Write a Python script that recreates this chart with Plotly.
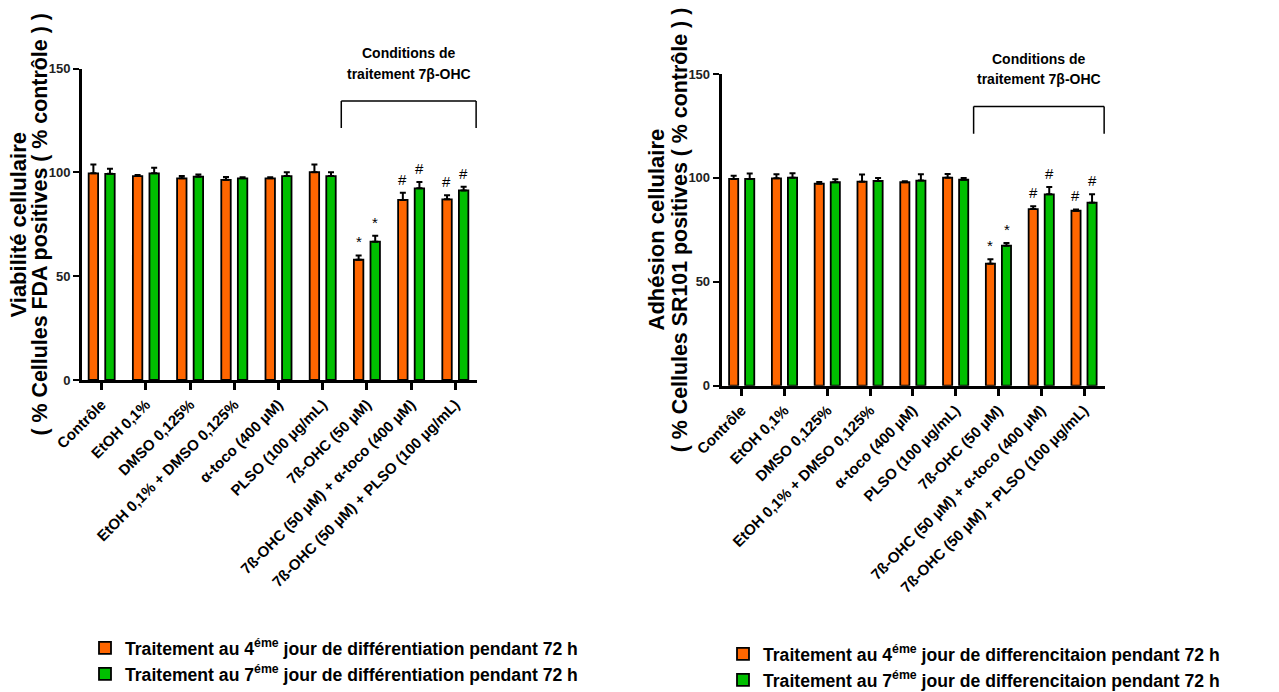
import plotly.graph_objects as go

# the page body has an 8px margin: figure starts at (8, 8) in the window
W, H = 1263, 684
PAD = 8

categories = ["Contrôle", "EtOH 0,1%", "DMSO 0,125%", "EtOH 0,1% + DMSO 0,125%",
              "α-toco (400 µM)", "PLSO (100 µg/mL)", "7ß-OHC (50 µM)",
              "7ß-OHC (50 µM) + α-toco (400 µM)", "7ß-OHC (50 µM) + PLSO (100 µg/mL)"]

# viabilite (FDA)
fda_j4 = [99.5, 98.2, 97.1, 96.4, 97.1, 100.1, 57.9, 86.7, 87.0]
fda_j4_err = [4.3, 0.5, 1.1, 1.3, 0.5, 3.7, 2.1, 3.5, 2.0]
fda_j7 = [99.3, 99.5, 97.9, 97.1, 98.2, 98.2, 66.6, 92.3, 91.3]
fda_j7_err = [2.4, 2.7, 1.0, 0.5, 1.9, 1.9, 2.9, 3.0, 1.8]

# adhesion (SR101)
sr_j4 = [99.5, 99.8, 97.2, 98.2, 97.9, 100.1, 58.7, 85.0, 84.2]
sr_j4_err = [1.5, 2.0, 0.8, 3.4, 0.5, 1.8, 2.2, 1.3, 0.6]
sr_j7 = [99.5, 100.1, 97.9, 98.5, 98.7, 99.1, 67.4, 92.1, 88.1]
sr_j7_err = [2.6, 2.1, 1.4, 1.4, 3.0, 0.9, 1.3, 3.5, 4.0]

sig = ["", "", "", "", "", "", "*", "#", "#"]

legend_fda = ["Traitement au 4<sup>éme</sup> jour de différentiation pendant 72 h",
              "Traitement au 7<sup>éme</sup> jour de différentiation pendant 72 h"]
legend_sr = ["Traitement au 4<sup>éme</sup> jour de differencitaion pendant 72 h",
             "Traitement au 7<sup>éme</sup> jour de differencitaion pendant 72 h"]

ORANGE = "#FF6600"
GREEN = "#00BF00"
FONT = "Liberation Sans, Arial, sans-serif"
xs = list(range(len(categories)))

fig = go.Figure()


def add_bars(vals, errs, color, name, xa, ya, leg):
    fig.add_trace(go.Bar(
        x=xs, y=vals, name=name, xaxis=xa, yaxis=ya, legend=leg,
        marker=dict(color=color, line=dict(color="black", width=1.8)),
        error_y=dict(type="data", array=errs, arrayminus=[0] * len(errs),
                     symmetric=False, color="black", thickness=2, width=3),
    ))


add_bars(fda_j4, fda_j4_err, ORANGE, legend_fda[0], "x", "y", "legend")
add_bars(fda_j7, fda_j7_err, GREEN, legend_fda[1], "x", "y", "legend")
add_bars(sr_j4, sr_j4_err, ORANGE, legend_sr[0], "x2", "y2", "legend2")
add_bars(sr_j7, sr_j7_err, GREEN, legend_sr[1], "x2", "y2", "legend2")


def px_x(p):
    return (p - PAD) / W


def px_y(p):
    return 1 - (p - PAD) / H


xaxis_common = dict(
    tickmode="array", tickvals=xs, ticktext=categories, tickangle=-45,
    showline=True, linecolor="black", linewidth=3, ticks="outside",
    ticklen=7, tickwidth=2.5, tickcolor="black", showgrid=False, zeroline=False,
    automargin=False,
    tickfont=dict(family=FONT, size=15, color="black", weight="bold"),
)
yaxis_common = dict(
    range=[0, 150], tickvals=[0, 50, 100, 150],
    showline=True, linecolor="black", linewidth=3, ticks="outside",
    ticklen=6, tickwidth=2, tickcolor="black", showgrid=False, zeroline=False,
    automargin=False,
    tickfont=dict(family=FONT, size=13, color="#222", weight="bold"),
)
leg_font = dict(family=FONT, size=17.6, color="black", weight="bold")

fig.update_layout(
    template="none",
    width=W, height=H, margin=dict(l=0, r=0, t=0, b=0, autoexpand=False),
    plot_bgcolor="white", paper_bgcolor="white",
    barmode="group", bargap=0.25, bargroupgap=0.43,
    xaxis=dict(domain=[px_x(82), px_x(477)], range=[-0.445, 8.49], anchor="y", **xaxis_common),
    yaxis=dict(domain=[px_y(380), px_y(68.5)], anchor="x", **yaxis_common),
    xaxis2=dict(domain=[px_x(721.7), px_x(1105)], range=[-0.467, 8.49], anchor="y2", **xaxis_common),
    yaxis2=dict(domain=[px_y(385.7), px_y(74)], anchor="x2", **yaxis_common),
    legend=dict(x=px_x(85), y=px_y(630), xanchor="left", yanchor="top", font=leg_font,
                bgcolor="rgba(0,0,0,0)"),
    legend2=dict(x=px_x(723), y=px_y(636), xanchor="left", yanchor="top", font=leg_font,
                 bgcolor="rgba(0,0,0,0)"),
    showlegend=True,
)

ann = []
# y titles (two lines each)
ytitles = [
    (17.5, 39.5, 225, "Viabilité cellulaire", "( % Cellules FDA positives ( % contrôle ) )"),
    (656.7, 679.5, 229.8, "Adhésion cellulaire", "( % Cellules SR101 positives ( % contrôle ) )"),
]
for x1, x2, yc, l1, l2 in ytitles:
    for xx, t, fs in ((x1, l1, 22), (x2, l2, 21.4)):
        ann.append(dict(xref="paper", yref="paper", x=px_x(xx), y=px_y(yc), text=t,
                        textangle=-90, showarrow=False, xanchor="center", yanchor="middle",
                        font=dict(family=FONT, size=fs, color="black", weight="bold")))

# significance marks + bracket
off = 0.19
for xa, ya, j4, e4, j7, e7, ytxt in (
        ("x", "y", fda_j4, fda_j4_err, fda_j7, fda_j7_err, (53, 74)),
        ("x2", "y2", sr_j4, sr_j4_err, sr_j7, sr_j7_err, (59.3, 79.3))):
    for i, s in enumerate(sig):
        if not s:
            continue
        for dx, v, e in ((-off, j4[i], e4[i]), (off, j7[i], e7[i])):
            ann.append(dict(xref=xa, yref=ya, x=i + dx, y=v + e, text=s, showarrow=False,
                            xanchor="center", yanchor="bottom", yshift=3,
                            font=dict(family=FONT, size=15, color="black")))
    for t, yp in zip(("Conditions de", "traitement 7β-OHC"), ytxt):
        ann.append(dict(xref=xa, yref="paper", x=6.95, y=px_y(yp), text=t, showarrow=False,
                        xanchor="center", yanchor="middle",
                        font=dict(family=FONT, size=14, color="black", weight="bold")))
    for x0, y0, x1, y1 in ((5.42, 121.3, 5.42, 134.4), (5.42, 134.4, 8.47, 134.4),
                           (8.47, 134.4, 8.47, 121.3)):
        fig.add_shape(type="line", xref=xa, yref=ya, x0=x0, y0=y0, x1=x1, y1=y1,
                      line=dict(color="black", width=1.5))

fig.update_layout(annotations=ann)
fig.write_html("out.html")
